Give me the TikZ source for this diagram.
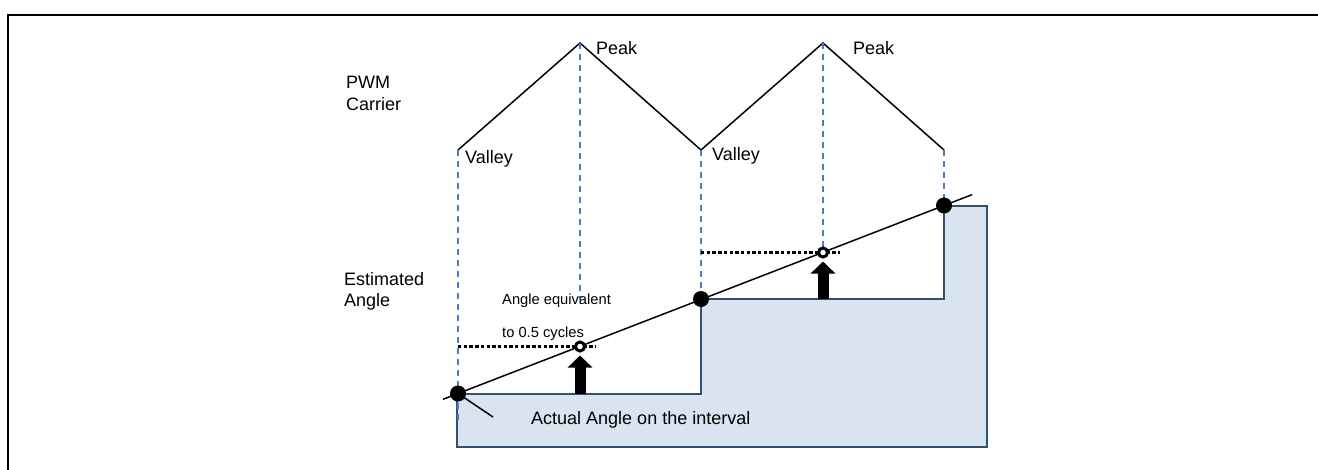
\documentclass[tikz,border=0pt]{standalone}
\usepackage{fontspec}
\setmainfont{Liberation Sans}
\usepackage{xcolor}
\usetikzlibrary{arrows.meta,calc}
\definecolor{vblack}{HTML}{000000}
\definecolor{dashblue}{HTML}{4A7EC2}
\definecolor{boxfill}{HTML}{DAE3F0}
\definecolor{boxedge}{HTML}{34506F}

\begin{document}
\begin{tikzpicture}[x=1pt, y=-1pt,
		guide/.style={color=dashblue, line width=1.6pt, dash pattern=on 6pt off 5pt},
		level/.style={color=vblack, line width=3.4pt, dash pattern=on 3.4pt off 2.3pt},
		sample/.style={circle, fill=vblack, minimum size=16pt, inner sep=0pt},
		halfdot/.style={circle, draw=vblack, fill=white, line width=3pt, minimum size=9pt, inner sep=0pt},
		lift/.style={color=vblack, -{Triangle[width=24pt,length=12pt]}, line width=11pt, shorten >=3pt},
		big/.style={anchor=base west, inner sep=0pt, font=\fontsize{18}{21}\selectfont},
		small/.style={anchor=base west, inner sep=0pt, font=\fontsize{14.7}{17}\selectfont}]
		\useasboundingbox (0,0) rectangle (1318,469);
		\draw[color=vblack, line width=2pt] (8,480) -- (8,15) -- (1330,15);
		% carrier corners
		\coordinate (V1) at (458,150);
		\coordinate (P1) at (580,43);
		\coordinate (V2) at (701,150);
		\coordinate (P2) at (823,43);
		\coordinate (V3) at (944,150);
		% samples on the angle line
		\coordinate (D1) at (458,393.5);
		\coordinate (D2) at (701,299);
		\coordinate (D3) at (944,205.5);
		\coordinate (E1) at (580,346.5);
		\coordinate (E2) at (823,252.5);
		\coordinate (G1) at (458,425);
		\coordinate (T1) at (580,300);
		\coordinate (K) at (493,417);
		% actual angle
		\draw[color=boxedge, fill=boxfill, line width=2pt] (457,447) -- (457,393.5) -- (D1 -| D2) -- (D2) -- (D2 -| D3) -- (D3) -- (987,205.5) -- (987,447) -- cycle;
		\draw[color=vblack, line width=1.5pt] (V1) -- (P1) -- (V2) -- (P2) -- (V3);
		\draw[guide] (V1) -- (G1);
		\draw[guide] (P1) -- (T1);
		\draw[guide] (V2) -- (D2);
		\draw[guide] (P2) -- (E2);
		\draw[guide] (V3) -- (D3);
		\draw[level] (D1 |- E1) -- ($(E1)+(15,0)$);
		\draw[level] (D2 |- E2) -- ($(E2)+(17,0)$);
		\draw[color=vblack, line width=1.5pt] ($(D1)!-0.031!(D3)$) -- ($(D1)!1.058!(D3)$);
		\draw[color=vblack, line width=1.5pt] (D1) -- (K);
		\node[sample] (s1) at (D1) {};
		\node[sample] (s2) at (D2) {};
		\node[sample] (s3) at (D3) {};
		\node[halfdot] (h1) at (E1) {};
		\node[halfdot] (h2) at (E2) {};
		\draw[lift] (E1 |- D1) -- (h1.center |- h1.south);
		\draw[lift] (E2 |- D2) -- (h2.center |- h2.south);
		% labels
		\node[big] (pwm) at (346,88) {PWM};
		\node[big] (carrier) at (346,110) {Carrier};
		\node[big] (est) at (344,285) {Estimated};
		\node[big] (ang) at (344,306) {Angle};
		\node[big] (peak1) at (596,54) {Peak};
		\node[big] (peak2) at (853,54) {Peak};
		\node[big] (valley1) at (465,163) {Valley};
		\node[big] (valley2) at (712,160) {Valley};
		\node[small] (equiv) at (502,304) {Angle equivalent};
		\node[small] (half) at (502,337) {to 0.5 cycles};
		\node[big] (actual) at (531,424) {Actual Angle on the interval};
	\end{tikzpicture}
\end{document}
